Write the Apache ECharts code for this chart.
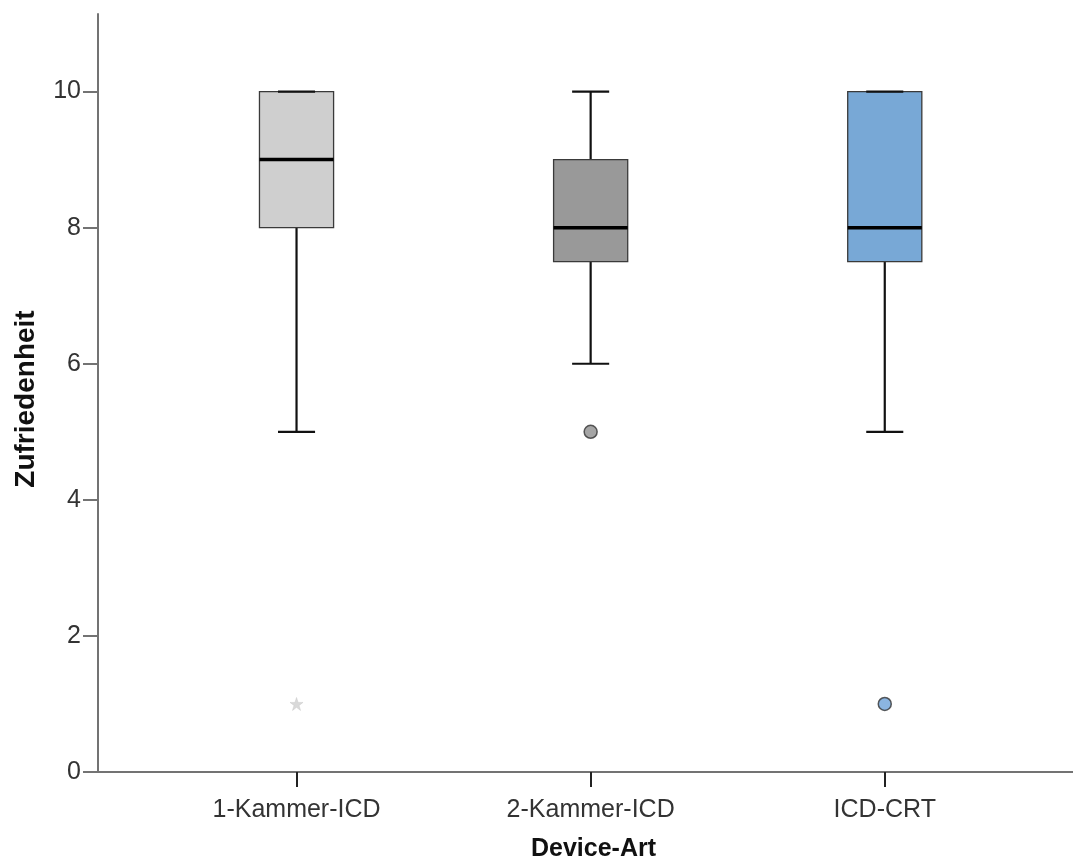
<!DOCTYPE html>
<html>
<head>
<meta charset="utf-8">
<script src="https://cdn.jsdelivr.net/npm/echarts@6/dist/echarts.min.js"></script>
<style>
  html, body { margin: 0; padding: 0; background: #ffffff; }
  #chart { width: 1073px; height: 864px; }
</style>
</head>
<body>
<div id="chart"></div>
<script>
// Zufriedenheit nach Device-Art (Boxplot)
const categories = ['1-Kammer-ICD', '2-Kammer-ICD', 'ICD-CRT'];
const whiskerLow = [5, 6, 5];
const q1 = [8, 7.5, 7.5];
const median = [9, 8, 8];
const q3 = [10, 9, 10];
const whiskerHigh = [10, 10, 10];

// Ausreißer (Kreis) und Extremwerte (Stern)
const outlierCategory = ['2-Kammer-ICD', 'ICD-CRT'];
const outlierValue = [5, 1];
const extremeCategory = ['1-Kammer-ICD'];
const extremeValue = [1];

const yTicks = [0, 2, 4, 6, 8, 10];

const boxFill = ['#cfcfcf', '#999999', '#78a8d6'];
const outlierFill = ['#d0d0d0', '#8e8e8e', '#6ea2da'];
const FONT = '"Liberation Sans", Arial, sans-serif';
const AXIS_COLOR = '#737373';
const BOX_WIDTH = 0.252;   // in x-axis units
const CAP_WIDTH = 0.126;

const boxData = categories.map((c, i) => [i + 1, whiskerLow[i], q1[i], median[i], q3[i], whiskerHigh[i]]);

function renderBox(params, api) {
  const x = api.value(0);
  const i = params.dataIndex;
  const low = api.coord([x, api.value(1)]);
  const p1 = api.coord([x, api.value(2)]);
  const pm = api.coord([x, api.value(3)]);
  const p3 = api.coord([x, api.value(4)]);
  const high = api.coord([x, api.value(5)]);
  const bw = api.size([BOX_WIDTH, 0])[0];
  const cw = api.size([CAP_WIDTH, 0])[0];
  const cx = low[0];
  const lineStyle = { stroke: '#111111', lineWidth: 2.2 };
  return {
    type: 'group',
    children: [
      { type: 'line', shape: { x1: cx, y1: high[1], x2: cx, y2: p3[1] }, style: lineStyle },
      { type: 'line', shape: { x1: cx, y1: p1[1], x2: cx, y2: low[1] }, style: lineStyle },
      {
        type: 'rect',
        shape: { x: cx - bw / 2, y: p3[1], width: bw, height: p1[1] - p3[1] },
        style: { fill: boxFill[i], stroke: '#3a3a3a', lineWidth: 1.3 }
      },
      { type: 'line', shape: { x1: cx - bw / 2, y1: pm[1], x2: cx + bw / 2, y2: pm[1] }, style: { stroke: '#000000', lineWidth: 3.5 } },
      { type: 'line', shape: { x1: cx - cw / 2, y1: high[1], x2: cx + cw / 2, y2: high[1] }, style: lineStyle },
      { type: 'line', shape: { x1: cx - cw / 2, y1: low[1], x2: cx + cw / 2, y2: low[1] }, style: lineStyle }
    ]
  };
}

const starPath = 'path://M50,0 L61.8,35.3 L99,35.3 L69,57.3 L80.4,92.7 L50,70.7 L19.6,92.7 L31,57.3 L1,35.3 L38.2,35.3 Z';

const chart = echarts.init(document.getElementById('chart'), null, { renderer: 'canvas' });
chart.setOption({
  animation: false,
  backgroundColor: '#ffffff',
  textStyle: { fontFamily: FONT },
  grid: { left: 98, right: 0, top: 14, bottom: 92, containLabel: false, outerBoundsMode: 'none' },
  xAxis: {
    type: 'value',
    min: 0.325,
    max: 3.64,
    name: 'Device-Art',
    nameLocation: 'middle',
    nameGap: 65,
    nameTextStyle: { fontFamily: FONT, fontSize: 25, fontWeight: 'bold', color: '#111111', padding: [0, 0, 0, 16] },
    axisLine: { show: true, onZero: false, lineStyle: { color: AXIS_COLOR, width: 2 } },
    axisTick: { show: true, length: 15, customValues: [1, 2, 3], lineStyle: { color: '#222222', width: 2 } },
    axisLabel: {
      customValues: [1, 2, 3],
      formatter: v => categories[Math.round(v) - 1] || '',
      margin: 26,
      fontFamily: FONT, fontSize: 25, color: '#333333'
    },
    splitLine: { show: false }
  },
  yAxis: {
    type: 'value',
    min: 0,
    max: 11.14,
    name: 'Zufriedenheit',
    nameLocation: 'middle',
    nameGap: 58,
    nameRotate: 90,
    nameTextStyle: { fontFamily: FONT, fontSize: 28, fontWeight: 'bold', color: '#111111', padding: [0, 12, 0, 0] },
    axisLine: { show: true, onZero: false, lineStyle: { color: AXIS_COLOR, width: 2 } },
    axisTick: { show: true, length: 15, customValues: yTicks, lineStyle: { color: AXIS_COLOR, width: 2 } },
    axisLabel: { customValues: yTicks, margin: 17, lineHeight: 32, verticalAlign: 'middle', padding: [6, 0, 0, 0], fontFamily: FONT, fontSize: 25, color: '#333333' },
    splitLine: { show: false }
  },
  series: [
    {
      type: 'custom',
      renderItem: renderBox,
      data: boxData,
      encode: { x: 0, y: [1, 2, 3, 4, 5] },
      z: 2
    },
    {
      type: 'scatter',
      symbol: 'circle',
      symbolSize: 13,
      z: 3,
      data: outlierCategory.map((c, k) => {
        const i = categories.indexOf(c);
        return {
          value: [i + 1, outlierValue[k]],
          itemStyle: { color: outlierFill[i], borderColor: '#333333', borderWidth: 1.5 }
        };
      })
    },
    {
      type: 'scatter',
      symbol: starPath,
      symbolSize: 13,
      z: 3,
      data: extremeCategory.map((c, k) => {
        const i = categories.indexOf(c);
        return {
          value: [i + 1, extremeValue[k]],
          itemStyle: { color: outlierFill[i], borderColor: '#c4c4c4', borderWidth: 0.5 }
        };
      })
    }
  ]
});
</script>
</body>
</html>
